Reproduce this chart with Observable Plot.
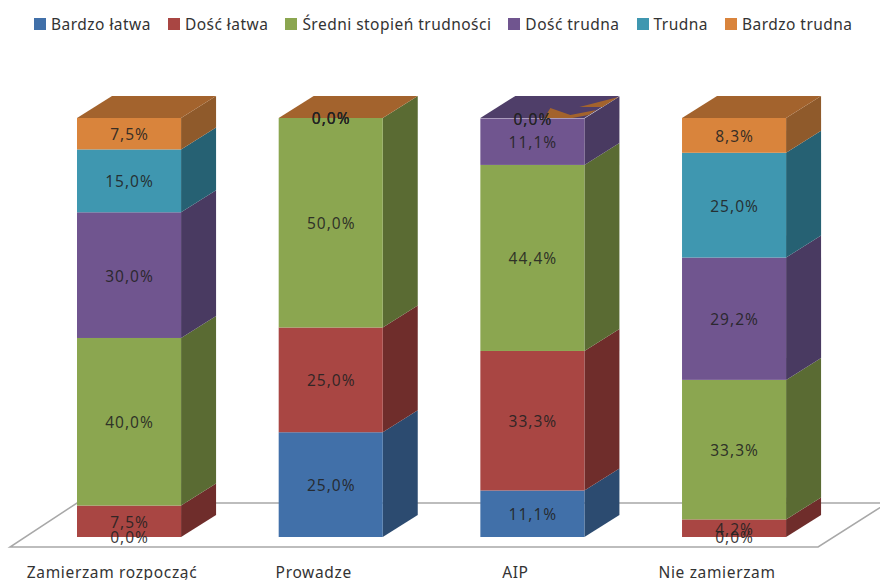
<!DOCTYPE html>
<html>
<head>
<meta charset="utf-8">
<script src="https://cdn.jsdelivr.net/npm/d3@7"></script>
<script src="https://cdn.jsdelivr.net/npm/@observablehq/plot@0.6"></script>
<style>
  html, body { margin: 0; padding: 0; background: #fff; overflow: hidden; }
  figure { margin: 0 !important; }
  figure > div {
    height: 44px !important; margin: 0 !important; padding: 3px 0 0 34px !important;
    box-sizing: border-box; min-height: 0 !important; white-space: nowrap; flex-wrap: nowrap !important;
    font-family: "Noto Sans", sans-serif !important; font-size: 15.5px !important; color: #333;
    letter-spacing: 0.47px;
  }
  figure > div > span { margin-right: 17px !important; display: inline-flex !important; align-items: center; }
  figure > div > span svg { margin-right: 5px !important; }
  svg text { letter-spacing: 0.65px; }
  svg .lbl text { letter-spacing: 1px; }
</style>
</head>
<body>
<script>
const categories = ["Zamierzam rozpocząć", "Prowadze", "AIP", "Nie zamierzam"];
const series = ["Bardzo łatwa", "Dość łatwa", "Średni stopień trudności", "Dość trudna", "Trudna", "Bardzo trudna"];
const bardzoLatwa = [0, 25, 11.1, 0];
const doscLatwa = [7.5, 25, 33.3, 4.2];
const sredni = [40, 50, 44.4, 33.3];
const doscTrudna = [30, 0, 11.1, 29.2];
const trudna = [15, 0, 0, 25];
const bardzoTrudna = [7.5, 0, 0, 8.3];
const seriesValues = [bardzoLatwa, doscLatwa, sredni, doscTrudna, trudna, bardzoTrudna];
const topSeries = ["Bardzo trudna", "Bardzo trudna", "Dość trudna", "Bardzo trudna"];

const frontColors = ["#4170a9", "#a94643", "#8ba650", "#70558f", "#3f97b0", "#d9843c"];
const sideColors = ["#2c4b70", "#6f2d2b", "#5a6b33", "#493a61", "#266173", "#8f5a2b"];
const topColors = ["#2c4b70", "#6f2d2b", "#5a6b33", "#4f3e69", "#266173", "#a3632d"];

const rows = [];
categories.forEach((category, c) => {
  let base = 0;
  series.forEach((name, s) => {
    const value = seriesValues[s][c];
    rows.push({category, name, value, s, y0: base, y1: base + value});
    base += value;
  });
});

const DEPTH_X = 35, DEPTH_Y = 22;
const poly = (g, pts, fill) => g.append("polygon").attr("points", pts.join(" ")).attr("fill", fill);

function floorMark(index, {x, y}) {
  const bw = typeof x.bandwidth === "function" ? x.bandwidth() : x.bandwidth;
  const g = d3.create("svg:g");
  const l = x(categories[0]), r = x(categories[categories.length - 1]) + bw, b = y(0);
  g.append("polygon")
    .attr("points", [[l - 67, b + 10], [r + 32, b + 10], [r + 101, b - 34], [l, b - 34]].join(" "))
    .attr("fill", "none").attr("stroke", "#a8a8a8").attr("stroke-width", 1.5);
  return g.node();
}

function depthMark(index, {x, y}) {
  const bw = typeof x.bandwidth === "function" ? x.bandwidth() : x.bandwidth;
  const g = d3.create("svg:g");
  for (const d of rows) {
    if (d.value === 0) continue;
    const xr = x(d.category) + bw, a = y(d.y0), t = y(d.y1);
    poly(g, [[xr, a], [xr + DEPTH_X, a - DEPTH_Y], [xr + DEPTH_X, t - DEPTH_Y], [xr, t]], sideColors[d.s]);
  }
  categories.forEach((category, c) => {
    const l = x(category), t = y(100);
    poly(g, [[l, t], [l + bw, t], [l + bw + DEPTH_X, t - DEPTH_Y], [l + DEPTH_X, t - DEPTH_Y]], topColors[series.indexOf(topSeries[c])]);
  });
  // orange flecks showing through the top face of the AIP column
  const l = x("AIP"), t = y(100), orange = topColors[5];
  poly(g, [[l + 64, t], [l + 70, t - 10], [l + 90, t - 3], [l + 116, t - 8], [l + 108, t - 3], [l + 92, t]], orange);
  poly(g, [[l + 99, t - 11], [l + 138, t - 21], [l + 122, t - 11]], orange);
  return g.node();
}

const fmt = v => v.toFixed(1).replace(".", ",") + "%";

const chart = Plot.plot({
  width: 880,
  height: 536,
  marginTop: 74,
  marginBottom: 43,
  marginLeft: 0,
  marginRight: 0,
  style: {fontFamily: '"Noto Sans", sans-serif', overflow: "hidden", background: "#fff"},
  x: {type: "band", domain: categories, range: [-20.6, 883.7], padding: 0.484, round: false, label: null},
  y: {domain: [0, 100], label: null, axis: null},
  color: {domain: series, range: frontColors, legend: true, swatchSize: 12},
  marks: [
    floorMark,
    depthMark,
    Plot.barY(rows, {x: "category", y1: "y0", y2: "y1", fill: "name", inset: 0}),
    Plot.text(rows, {
      x: "category",
      y: d => (d.y0 + d.y1) / 2,
      dy: 1,
      text: d => fmt(d.value),
      fill: "#222",
      fillOpacity: 0.88,
      fontSize: 15.5,
      className: "lbl"
    }),
    Plot.axisX({anchor: "bottom", tickSize: 0, tickPadding: 29, dx: -17.5, fontSize: 15.5, fill: "#333", label: null}),
  ]
});
document.body.appendChild(chart);
</script>
</body>
</html>
